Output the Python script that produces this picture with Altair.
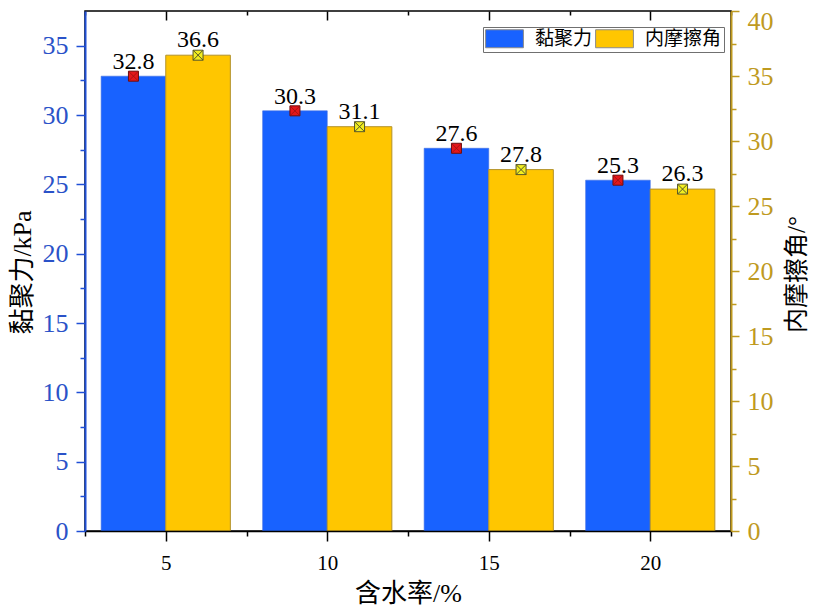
import altair as alt
import pandas as pd

# ---- data ----
water = [5, 10, 15, 20]                 # 含水率 / %
cohesion = [32.8, 30.3, 27.6, 25.3]     # 黏聚力 / kPa  (left axis)
friction = [36.6, 31.1, 27.8, 26.3]     # 内摩擦角 / °  (right axis)
series_names = ["黏聚力", "内摩擦角"]
bar_colors = ["#1862FF", "#FFC600"]

x_ticks = [2.5, 5, 7.5, 10, 12.5, 15, 17.5, 20, 22.5]
left_ticks = [0, 2.5, 5, 7.5, 10, 12.5, 15, 17.5, 20, 22.5, 25, 27.5, 30, 32.5, 35]
right_ticks = [0, 2.5, 5, 7.5, 10, 12.5, 15, 17.5, 20, 22.5, 25, 27.5, 30, 32.5, 35, 37.5, 40]

df_c = pd.DataFrame({"water": water, "value": cohesion, "series": series_names[0]})
df_f = pd.DataFrame({"water": water, "value": friction, "series": series_names[1]})

SERIF = "Liberation Serif"
FONT = "Liberation Serif, Noto Sans CJK SC"
BLUE_AX = "#1F4FD6"
GOLD_AX = "#BF9A1F"
XPATH = "M-1,-1L1,1M1,-1L-1,1"

xscale = alt.Scale(domain=[2.5, 22.5], nice=False, zero=False)
lscale = alt.Scale(domain=[0, 37.5], nice=False, zero=True)
rscale = alt.Scale(domain=[0, 40], nice=False, zero=True)
cscale = alt.Scale(domain=series_names, range=bar_colors)


def dash(minor, major):
    return {"condition": {"test": "datum.value % 5 != 0", "value": minor}, "value": major}


label5 = "datum.value % 5 == 0 ? datum.label : ''"

x_bottom = alt.Axis(
    orient="bottom", values=x_ticks, labelExpr=label5, title="含水率/%", grid=False,
    domainColor="black", domainWidth=1.5, tickColor="black", tickWidth=1.5, tickSize=10,
    tickDash=dash([5, 20], [10, 0]), labelFont=SERIF, labelFontSize=21, labelColor="black",
    labelPadding=11, labelOverlap=False, labelFlush=False, titleFont=FONT, titleFontSize=26,
    titleFontWeight="normal", titleColor="black", titleY=62, titleBaseline="middle", zindex=1,
)
x_top = alt.Axis(
    orient="top", values=x_ticks, labels=False, domain=False, title=None, grid=False,
    tickColor="black", tickWidth=1.5, tickSize=9, offset=-9,
    tickDash=dash([0, 5, 4, 0], [9, 0]), zindex=1,
)
left_axis = alt.Axis(
    orient="left", values=left_ticks, labelExpr=label5, title="黏聚力/kPa", grid=False,
    domainColor=BLUE_AX, domainWidth=2, tickColor=BLUE_AX, tickWidth=1.5, tickSize=9,
    tickDash=dash([5, 20], [9, 0]), labelFont=SERIF, labelFontSize=26, labelColor="#2A52C8",
    labelPadding=8, labelOverlap=False, titleFont=FONT, titleFontSize=26, titleFontWeight="normal",
    titleColor="black", titleX=-63, titleY=261, titleBaseline="middle", titleAngle=270, zindex=1,
)
right_axis = alt.Axis(
    orient="right", values=right_ticks, labelExpr=label5, title="内摩擦角/°", grid=False,
    domainColor=GOLD_AX, domainWidth=2, tickColor=GOLD_AX, tickWidth=1.5, tickSize=8,
    tickDash=dash([5, 20], [8, 0]), labelFont=SERIF, labelFontSize=26, labelColor=GOLD_AX,
    labelPadding=8, labelOverlap=False, labelFlush=False,
    labelOffset={"condition": {"test": "datum.value == 40", "value": 10}, "value": 0},
    titleFont=FONT, titleFontSize=25, titleFontWeight="normal",
    titleColor="black", titleX=65, titleY=263, titleBaseline="middle", titleAngle=270, zindex=1,
)

legend = alt.Legend(
    title=None, orient="none", legendX=398, legendY=16, direction="horizontal",
    symbolType="M-2.1,-1H2.1V1H-2.1Z", symbolSize=324, symbolOffset=10,
    symbolStrokeColor="#8a8a8a", symbolStrokeWidth=1, symbolOpacity=1,
    labelFont=FONT, labelFontSize=19, labelOffset=21, labelColor="black", labelLimit=0,
    columnPadding=0, padding=2, strokeColor="#707070", fillColor="white",
)

# ---- cohesion (left axis) ----
base_c = alt.Chart(df_c).transform_calculate(
    x0="datum.water - 2", x1="datum.water", xc="datum.water - 1"
)
bx = dict(scale=xscale, axis=x_bottom)
by = dict(scale=lscale, axis=left_axis)
blue_bar = base_c.mark_rect(stroke="#3F6FE0", strokeWidth=0.6).encode(
    x=alt.X("x0:Q", **bx),
    x2=alt.X2("x1"),
    y=alt.Y("value:Q", **by),
    y2=alt.datum(0),
    color=alt.Color("series:N", scale=cscale, legend=legend),
)
blue_pt = base_c.mark_point(shape="square", filled=True, size=100, fill="#E3171B",
                            stroke="#6B0D0D", strokeWidth=1, opacity=1).encode(
    x=alt.X("xc:Q", **bx),
    y=alt.Y("value:Q", **by),
)
blue_x = base_c.mark_point(shape=XPATH, filled=False, size=80, stroke="#9A1010",
                           strokeWidth=0.8, opacity=1).encode(
    x=alt.X("xc:Q", **bx),
    y=alt.Y("value:Q", **by),
)
blue_txt = base_c.mark_text(font=SERIF, fontSize=24, dy=-7, baseline="alphabetic",
                            color="black").encode(
    x=alt.X("xc:Q", **bx),
    y=alt.Y("value:Q", **by),
    text=alt.Text("value:Q", format=".1f"),
)
blue = alt.layer(blue_bar, blue_pt, blue_x, blue_txt)

# ---- friction angle (right axis) ----
base_f = alt.Chart(df_f).transform_calculate(
    x0="datum.water", x1="datum.water + 2", xc="datum.water + 1"
)
fx = dict(scale=xscale, axis=x_top)
fy = dict(scale=rscale, axis=right_axis)
yel_bar = base_f.mark_rect(stroke="#B3922A", strokeWidth=1).encode(
    x=alt.X("x0:Q", **fx),
    x2=alt.X2("x1"),
    y=alt.Y("value:Q", **fy),
    y2=alt.datum(0),
    color=alt.Color("series:N", scale=cscale, legend=legend),
)
yel_pt = base_f.mark_point(shape="square", filled=True, size=100, fill="#F2EE1F",
                           stroke="#55552A", strokeWidth=1, opacity=1).encode(
    x=alt.X("xc:Q", **fx),
    y=alt.Y("value:Q", **fy),
)
yel_x = base_f.mark_point(shape=XPATH, filled=False, size=100, stroke="#55552A",
                          strokeWidth=1, opacity=1).encode(
    x=alt.X("xc:Q", **fx),
    y=alt.Y("value:Q", **fy),
)
yel_txt = base_f.mark_text(font=SERIF, fontSize=24, dy=-8, baseline="alphabetic",
                           color="black").encode(
    x=alt.X("xc:Q", **fx),
    y=alt.Y("value:Q", **fy),
    text=alt.Text("value:Q", format=".1f"),
)
yellow = alt.layer(yel_bar, yel_pt, yel_x, yel_txt)

chart = alt.layer(blue, yellow).resolve_scale(y="independent").properties(
    width=646, height=520,
    autosize=alt.AutoSizeParams(type="none"),
    padding={"left": 77, "top": 3, "right": 79, "bottom": 76},
    background="white",
).configure_view(stroke="black", strokeWidth=1.5)

chart.save("out.html", embed_options={"renderer": "svg", "actions": False})
